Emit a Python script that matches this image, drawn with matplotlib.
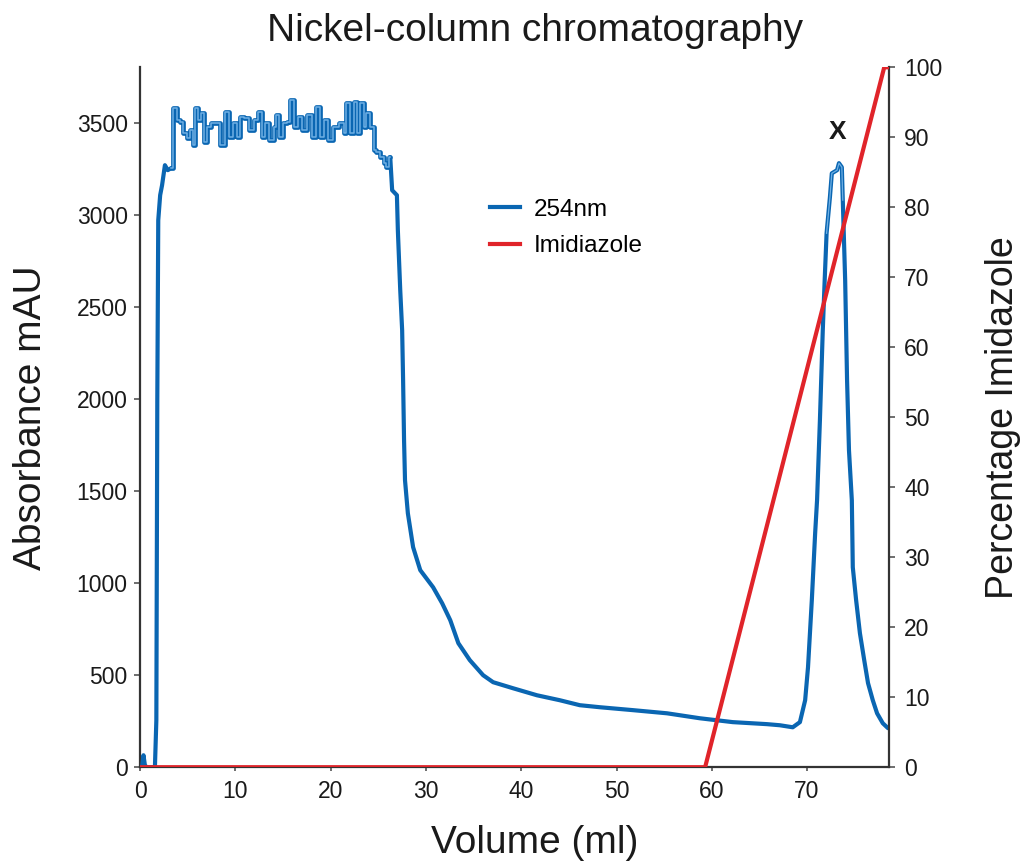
import matplotlib
matplotlib.use("Agg")
import matplotlib.pyplot as plt
from matplotlib.lines import Line2D

plt.rcParams['font.family'] = ['Liberation Sans', 'DejaVu Sans']

# UV absorbance trace (254 nm), volume in ml vs mAU
volume = [0.0, 0.2, 0.35, 0.5, 0.7, 1.55, 1.7, 1.8, 1.9, 2.1, 2.3, 2.6, 2.9, 3.25,
          3.65, 4.0, 4.4, 4.7, 5.05, 5.45, 5.55, 5.9, 6.2, 6.5, 6.8, 7.15, 7.65,
          8.2, 8.6, 9.15, 9.45, 10.0, 10.3, 10.7, 11.2, 11.75, 12.05, 12.6, 12.9,
          13.3, 13.85, 14.15, 14.4, 14.7, 15.2, 15.55, 15.95, 16.25, 16.8, 17.1,
          17.85, 18.15, 18.7, 19.1, 19.4, 19.95, 20.45, 21.2, 21.5, 21.8, 22.25,
          22.55, 22.9, 23.3, 23.6, 23.9, 24.35, 24.65, 24.95, 25.4, 25.7, 26.0,
          26.25, 26.45, 26.95, 27.05, 27.3, 27.5, 27.6, 27.7, 27.8, 28.1, 28.65,
          29.4, 30.75, 31.7, 32.55, 33.4, 34.6, 36.0, 37.05, 39.15, 41.65, 44.05,
          46.15, 48.25, 51.75, 55.3, 58.75, 62.2, 65.8, 67.15, 68.5, 69.25, 69.8,
          70.1, 70.5, 70.85, 71.05, 71.35, 71.65, 71.85, 72.05, 72.4, 72.6, 73.15,
          73.35, 73.65, 73.75, 74.0, 74.2, 74.4, 74.7, 74.8, 75.15, 75.55, 76.0,
          76.4, 76.9, 77.35, 77.95, 78.5]
absorbance = [0, 0, 65, 10, 0, 0, 255, 1995, 2973, 3109, 3163, 3272, 3245, 3256,
              3582, 3516, 3505, 3446, 3419, 3462, 3380, 3582, 3516, 3554, 3397, 3478,
              3500, 3500, 3380, 3560, 3424, 3500, 3424, 3533, 3527, 3462, 3516, 3560,
              3424, 3500, 3408, 3478, 3543, 3424, 3500, 3505, 3625, 3478, 3533, 3462,
              3543, 3424, 3587, 3424, 3516, 3408, 3478, 3500, 3446, 3609, 3446, 3614,
              3446, 3609, 3478, 3554, 3478, 3353, 3343, 3315, 3283, 3261, 3315, 3136,
              3109, 2918, 2592, 2375, 2103, 1777, 1560, 1380, 1196, 1071, 978, 891,
              799, 674, 582, 500, 462, 429, 391, 364, 337, 326, 310, 293, 266, 245,
              234, 228, 217, 245, 364, 543, 908, 1272, 1451, 1886, 2375, 2647, 2902,
              3098, 3228, 3245, 3283, 3261, 3082, 2647, 2103, 1723, 1451, 1087, 908,
              728, 582, 457, 364, 293, 239, 212]

# Imidazole gradient (% of elution buffer)
grad_volume = [0.0, 59.3, 78.1, 78.6]
grad_percent = [0, 0, 100, 100]

left_ticks = [0, 500, 1000, 1500, 2000, 2500, 3000, 3500]
right_ticks = [0, 10, 20, 30, 40, 50, 60, 70, 80, 90, 100]
x_ticks = [0, 10, 20, 30, 40, 50, 60, 70]

BLUE = '#0a66b2'
LIGHT = '#6fb0e4'
RED = '#e0242a'
SPINE = '#333333'
TXT = '#1a1a1a'

fig = plt.figure(figsize=(10.23, 8.63), dpi=100)
ax = fig.add_axes([0.137, 0.111, 0.732, 0.811])
ax2 = ax.twinx()


def segment(lo, hi):
    pts = [(v, a) for v, a in zip(volume, absorbance) if lo <= v <= hi]
    return [p[0] for p in pts], [p[1] for p in pts]


line_kw = dict(color=BLUE, lw=3.0, solid_joinstyle='round', solid_capstyle='round', zorder=3)
# load and wash: rise, stepped detector plateau, fall-off and elution peak
x, y = segment(0, 3.25)
ax.plot(x, y, **line_kw)
x, y = segment(3.25, 26.25)
ax.plot(x, y, drawstyle='steps-mid', **dict(line_kw, lw=3.4))
ax.plot(x, y, drawstyle='steps-mid', color=LIGHT, lw=1.1, zorder=4)
x, y = segment(26.25, 80)
ax.plot(x, y, **line_kw)
x, y = segment(72.05, 73.75)
ax.plot(x, y, color=LIGHT, lw=0.9, zorder=4)

ax2.plot(grad_volume, grad_percent, color=RED, lw=3.0, zorder=5,
         solid_joinstyle='round')

ax.set_xlim(0, 78.6)
ax.set_ylim(0, 3804)
ax2.set_ylim(0, 100)

ax.set_xticks(x_ticks)
ax.set_yticks(left_ticks)
ax2.set_yticks(right_ticks)

for a in (ax, ax2):
    a.spines['top'].set_visible(False)
    for s in ('left', 'right', 'bottom'):
        a.spines[s].set_color(SPINE)
        a.spines[s].set_linewidth(1.6)
    a.tick_params(colors='#555555', labelcolor=TXT, labelsize=16.5, width=1.2)
ax.spines['right'].set_visible(False)
ax2.spines['left'].set_visible(False)
ax2.spines['bottom'].set_visible(False)
ax.tick_params(axis='y', length=4.5, pad=4.5)
ax.tick_params(axis='x', length=3, pad=6.5)
ax2.tick_params(axis='y', length=4.5, pad=6.5)

ax.set_xlabel('Volume (ml)', fontsize=28, color=TXT)
ax.xaxis.set_label_coords(0.527, -0.083)
ax.set_ylabel('Absorbance mAU', fontsize=28, color=TXT)
ax.yaxis.set_label_coords(-0.122, 0.5)
ax2.set_ylabel('Percentage Imidazole', fontsize=27, color=TXT)
ax2.yaxis.set_label_coords(1.128, 0.5)
fig.suptitle('Nickel-column chromatography', fontsize=28, color=TXT, x=0.523, y=0.985)

ax.text(73.2, 3450, 'X', fontsize=19, fontweight='bold', color=TXT, ha='center', va='center')

handles = [Line2D([], [], color=BLUE, lw=3.0), Line2D([], [], color=RED, lw=3.0)]
fig.legend(handles, ['254nm', 'Imidiazole'], loc='upper left',
           bbox_to_anchor=(0.4575, 0.795), frameon=False, fontsize=17.5,
           handlelength=1.25, handletextpad=0.55, labelspacing=0.6)

fig.savefig('out.png', dpi=100)
